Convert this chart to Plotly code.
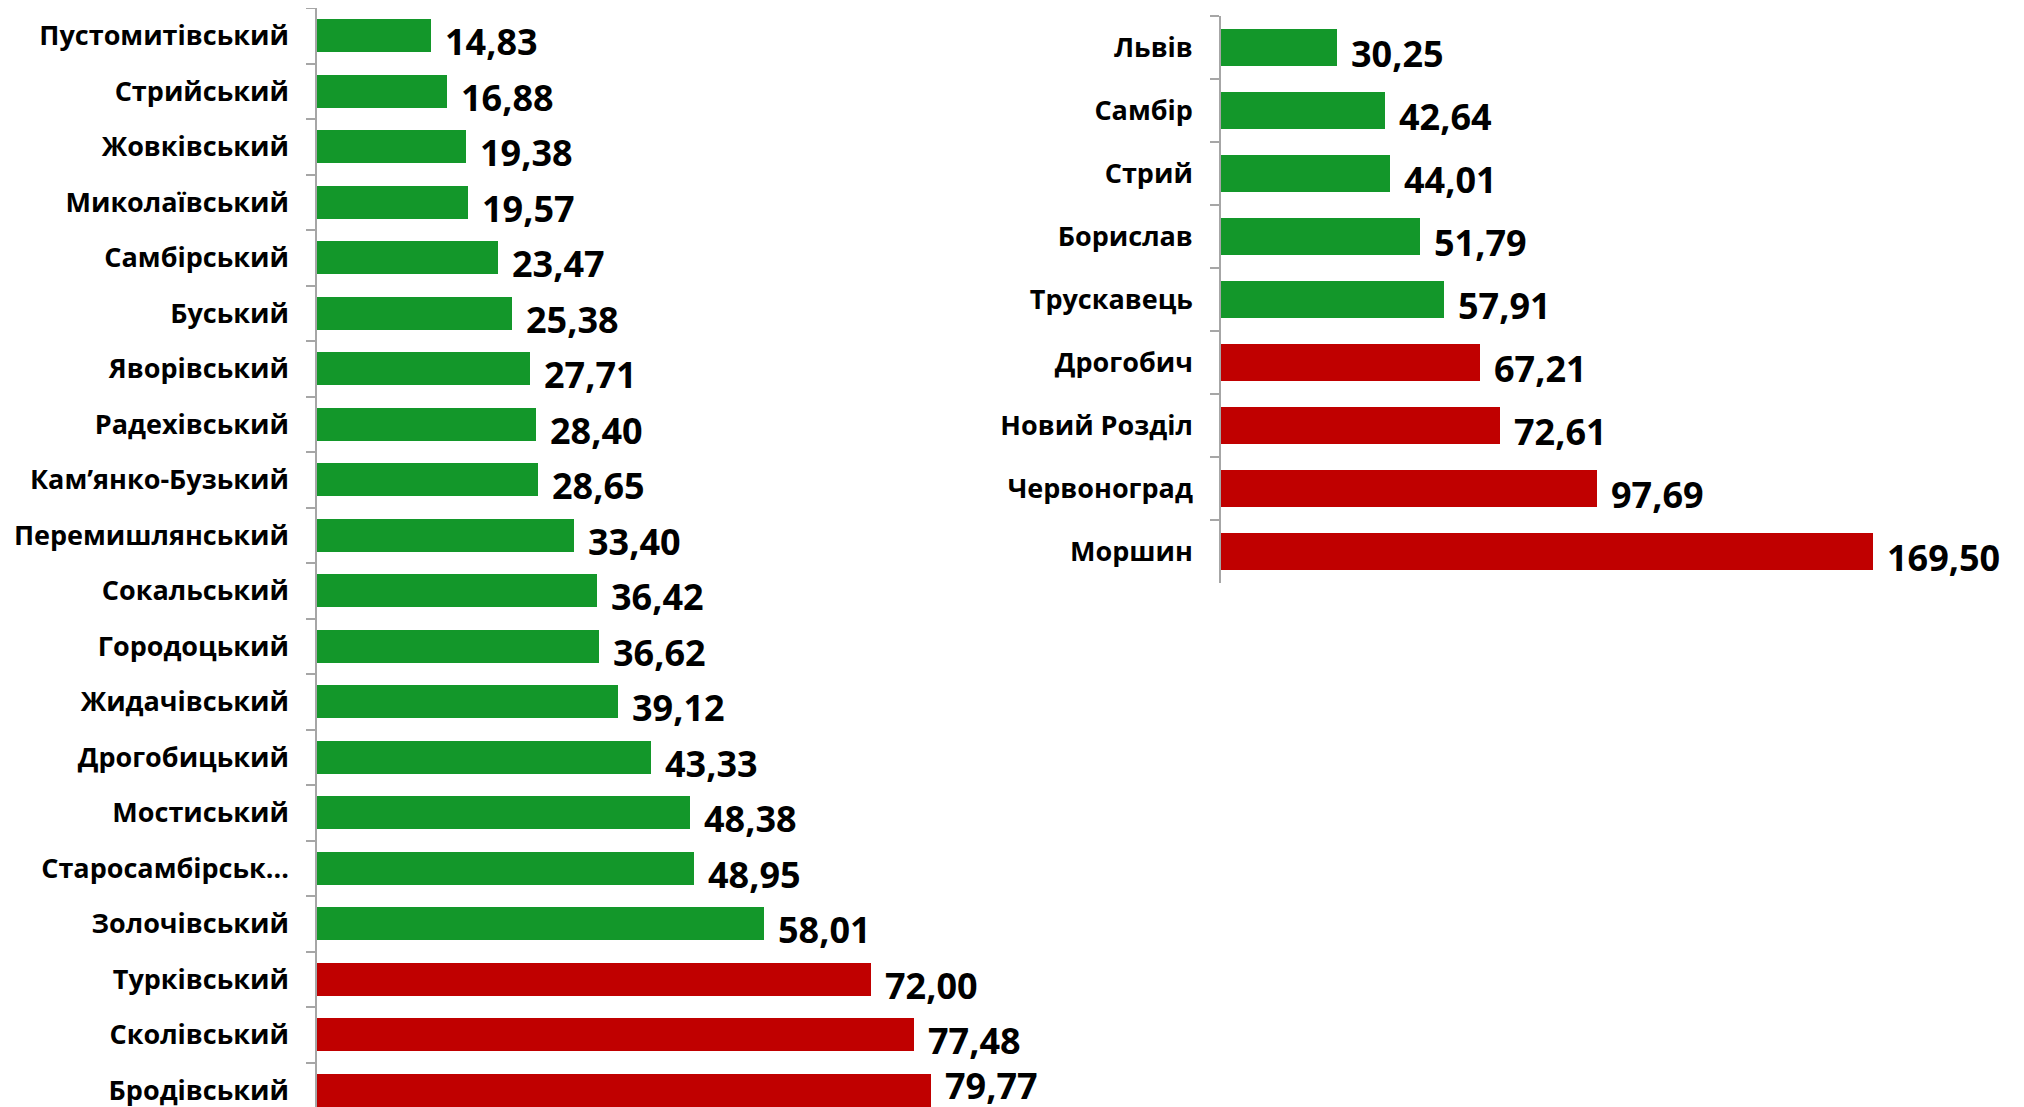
import plotly.graph_objects as go

# ---- data ----
districts = ["Пустомитівський", "Стрийський", "Жовківський", "Миколаївський", "Самбірський",
             "Буський", "Яворівський", "Радехівський", "Кам’янко-Бузький", "Перемишлянський",
             "Сокальський", "Городоцький", "Жидачівський", "Дрогобицький", "Мостиський",
             "Старосамбірськ...", "Золочівський", "Турківський", "Сколівський", "Бродівський"]
district_values = [14.83, 16.88, 19.38, 19.57, 23.47, 25.38, 27.71, 28.40, 28.65, 33.40,
                   36.42, 36.62, 39.12, 43.33, 48.38, 48.95, 58.01, 72.00, 77.48, 79.77]

cities = ["Львів", "Самбір", "Стрий", "Борислав", "Трускавець", "Дрогобич",
          "Новий Розділ", "Червоноград", "Моршин"]
city_values = [30.25, 42.64, 44.01, 51.79, 57.91, 67.21, 72.61, 97.69, 169.50]

THRESHOLD = 60
GREEN = "#13972a"
RED = "#c00000"

# page body has an 8px margin: figure occupies page pixels 8..2024 x 8..1107
OFF = 8
W, H = 2024 - 2 * OFF, 1107 - OFF


def fmt(v):
    return f"{v:.2f}".replace(".", ",")


def colors(vals):
    return [RED if v > THRESHOLD else GREEN for v in vals]


FONT = "Open Sans"
VAL_FONT = dict(family=FONT, size=36, color="black", weight="bold")

fig = go.Figure()
fig.add_trace(go.Bar(
    x=district_values, y=districts, orientation="h", width=0.6,
    marker=dict(color=colors(district_values), line=dict(width=0)),
    xaxis="x", yaxis="y", hoverinfo="skip"))
fig.add_trace(go.Bar(
    x=city_values, y=cities, orientation="h", width=0.6,
    marker=dict(color=colors(city_values), line=dict(width=0)),
    xaxis="x2", yaxis="y2", hoverinfo="skip"))

# value labels, placed in data coordinates just right of each bar
for cats, vals, xr, yr, keep_inside in [(districts, district_values, "x", "y", True),
                                        (cities, city_values, "x2", "y2", False)]:
    n = len(cats)
    for i, (c, v) in enumerate(zip(cats, vals)):
        # last label of the left chart is kept inside the chart area (lifted up)
        ys = 5 if (keep_inside and i == n - 1) else -6
        fig.add_annotation(x=v, y=c, xref=xr, yref=yr, text=fmt(v), showarrow=False,
                           xanchor="left", yanchor="middle", xshift=12, yshift=ys,
                           font=VAL_FONT)

ax_line = dict(showline=True, linecolor="#a6a6a6", linewidth=1.5, ticks="outside",
               ticklen=9, tickcolor="#a6a6a6", tickwidth=1.5, tickson="boundaries",
               showgrid=False, zeroline=False, type="category",
               tickfont=dict(family=FONT, size=27, color="black", weight="bold"),
               ticklabelstandoff=21)

# reference pixel geometry (page coordinates)
l0, l1 = 317 - OFF, 1000 - OFF
r0 = 1221 - OFF
left_pitch = 55.5
r_top, r_bot = 15.7 - OFF, 582.7 - OFF

fig.update_layout(
    width=W, height=H, margin=dict(l=0, r=0, t=0, b=0, autoexpand=False),
    paper_bgcolor="white", plot_bgcolor="white", showlegend=False,
    bargap=0,
    xaxis=dict(domain=[l0 / W, l1 / W], range=[0, (l1 - l0) / 7.70], visible=False),
    xaxis2=dict(domain=[r0 / W, 1], range=[0, (W - r0) / 3.847], visible=False),
    yaxis=dict(domain=[0, 1], range=[-0.5 + H / left_pitch, -0.5],
               anchor="x", categoryorder="array", categoryarray=districts, **ax_line),
    yaxis2=dict(domain=[(H - r_bot) / H, (H - r_top) / H], range=[8.5, -0.5],
                anchor="x2", categoryorder="array", categoryarray=cities, **ax_line),
)

fig.write_html("out.html")
